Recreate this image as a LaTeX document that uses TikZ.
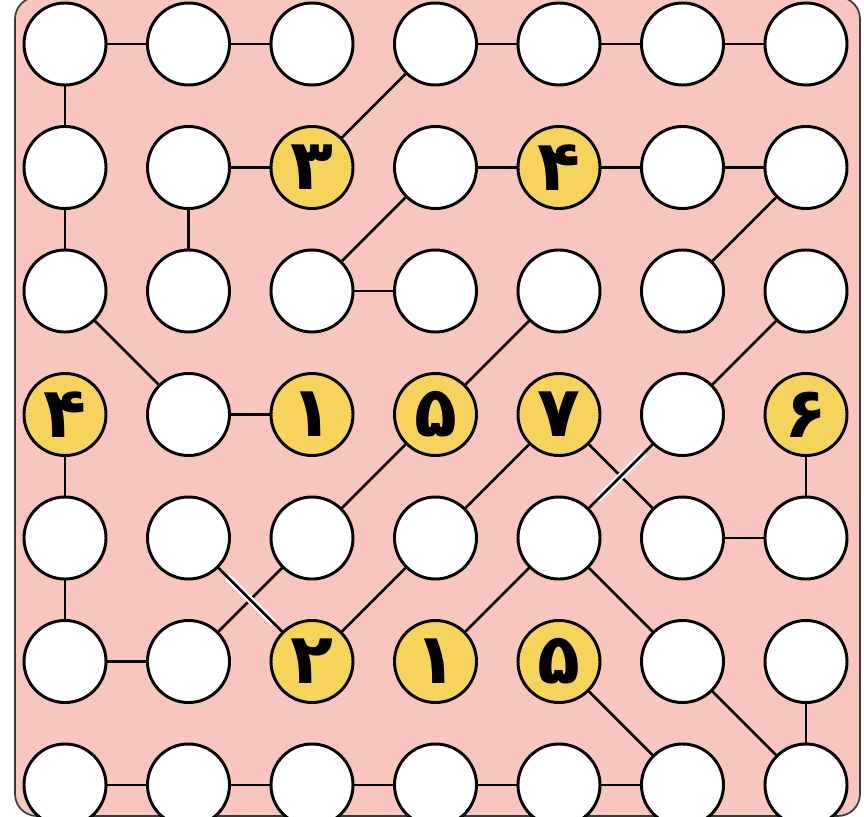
\documentclass[tikz,border=0pt]{standalone}
\usepackage{fontspec}
\newfontfamily\farsi[Script=Arabic]{DejaVu Sans}

\definecolor{boardpink}{HTML}{F8C6BF}
\definecolor{cluegold}{HTML}{F6D35C}
\definecolor{rimgray}{HTML}{3A3A3A}

\begin{document}
\begin{tikzpicture}[
    x=0.025cm, y=-0.025cm,
    cell/.style={circle, draw=black, line width=2.1pt, fill=white, minimum size=2.05cm, inner sep=0pt},
    given/.style={cell, fill=cluegold, font=\farsi\bfseries\fontsize{50}{50}\selectfont},
    link/.style={draw=black, line width=2pt},
    halo/.style={draw=white, line width=5pt, shorten <=0.3cm, shorten >=0.3cm}
]
\useasboundingbox (0,0) rectangle (864,817);

% board
\draw[rimgray, fill=boardpink, line width=1.2pt, rounded corners=0.55cm] (15,-3) rectangle (860,816);

% numbered circles
\foreach \c/\r/\t in {3/2/۳, 5/2/۴, 1/4/۴, 3/4/۱, 4/4/۵, 5/4/۷, 7/4/۶, 3/6/۲, 4/6/۱, 5/6/۵}
    \node[given] (n\c\r) at ({65+123.5*(\c-1)}, {44+123.5*(\r-1)}) {\t};

% empty circles
\foreach \c in {1,...,7}
    \foreach \r in {1,...,7} {
        \ifcsname pgf@sh@ns@n\c\r\endcsname\else
            \node[cell] (n\c\r) at ({65+123.5*(\c-1)}, {44+123.5*(\r-1)}) {};
        \fi
    }

% paths
\foreach \a/\b in {11/21, 21/31, 41/51, 51/61, 61/71, 22/32, 42/52, 52/62, 62/72,
                   33/43, 24/34, 65/75, 16/26, 17/27, 27/37, 37/47, 47/57, 57/67,
                   11/12, 12/13, 22/23, 14/15, 15/16, 74/75, 76/77,
                   32/41, 42/33, 13/24, 72/63, 53/44, 73/64, 44/35, 35/26, 36/45,
                   45/54, 54/65, 55/46, 55/66, 66/77, 56/67}
    \draw[link] (n\a) -- (n\b);

% crossings on top
\foreach \a/\b in {25/36, 64/55} {
    \draw[halo] (n\a) -- (n\b);
    \draw[link] (n\a) -- (n\b);
}

\end{tikzpicture}
\end{document}
